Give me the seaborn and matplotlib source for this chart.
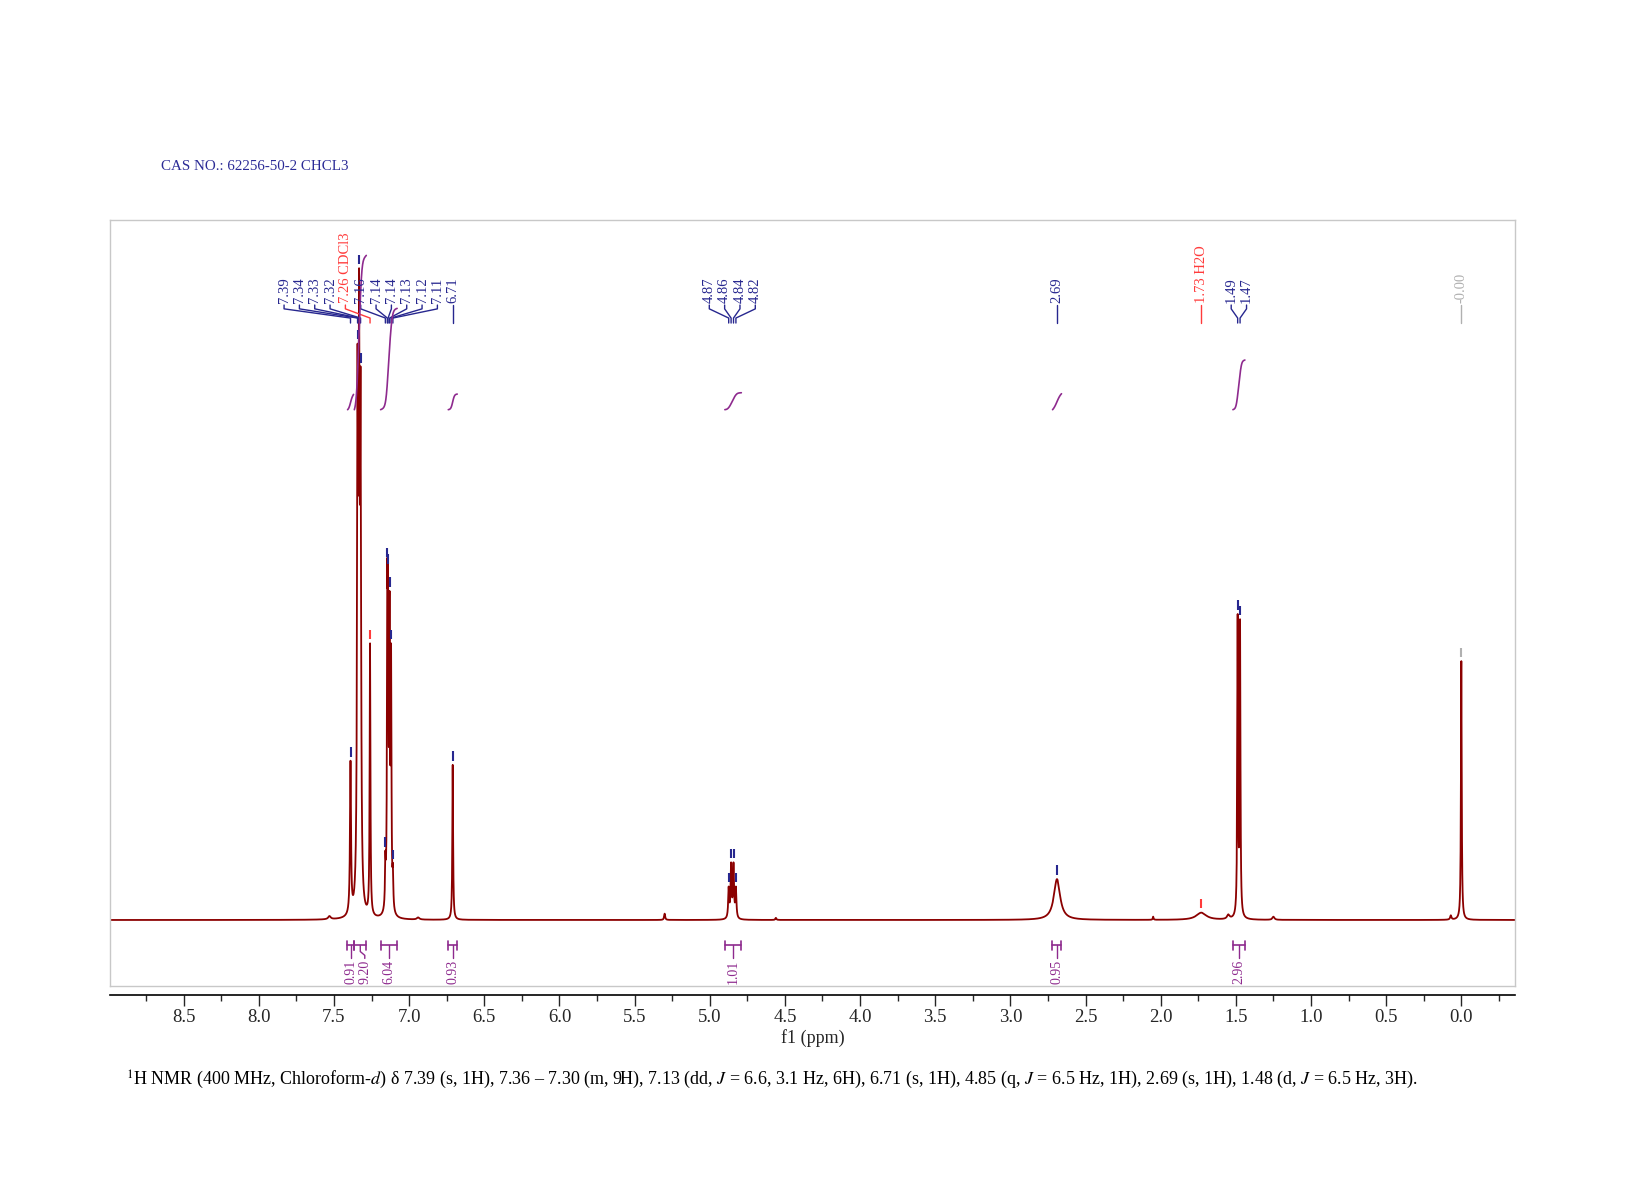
import numpy as np
import pandas as pd
import matplotlib
matplotlib.use("Agg")
import matplotlib.pyplot as plt
import matplotlib.transforms as mtransforms
from matplotlib.ticker import MultipleLocator, FormatStrFormatter
import seaborn as sns

# ---- data -----------------------------------------------------------------
# labelled peaks: position (ppm), apparent height (plot units), half width (ppm)
peak_ppm = [7.390, 7.343, 7.333, 7.323, 7.260, 7.158, 7.145, 7.140, 7.130, 7.120, 7.108,
            6.710, 4.874, 4.858, 4.842, 4.826, 2.690, 1.730, 1.488, 1.472, 0.000]
peak_height = [152, 550, 622, 528, 264, 66, 342, 336, 314, 264, 54,
               148, 32, 55, 55, 32, 39, 7, 292, 287, 247]
peak_hwhm = [0.004, 0.004, 0.004, 0.004, 0.003, 0.003, 0.003, 0.003, 0.003, 0.003, 0.003,
             0.003, 0.004, 0.004, 0.004, 0.004, 0.025, 0.04, 0.003, 0.003, 0.003]
peak_label = ["7.39", "7.34", "7.33", "7.32", "7.26 CDCl3", "7.16", "7.14", "7.14", "7.13",
              "7.12", "7.11", "6.71", "4.87", "4.86", "4.84", "4.82", "2.69", "1.73 H2O",
              "1.49", "1.47", "-0.00"]
peak_group = [0] * 11 + [1] + [2] * 4 + [3] + [4] + [5] * 2 + [6]
peak_kind = ["c"] * 4 + ["s"] + ["c"] * 12 + ["s"] + ["c"] * 2 + ["t"]

# small unlabelled bumps in the baseline
small_ppm = [7.53, 6.94, 5.30, 4.56, 2.05, 1.55, 1.25, 0.07]
small_height = [3, 2, 6, 2, 3, 4, 3, 4]
small_hwhm = [0.01, 0.01, 0.004, 0.004, 0.003, 0.01, 0.008, 0.005]

# integrals: region limits (ppm) and value
int_hi = [7.41, 7.365, 7.19, 6.74, 4.90, 2.72, 1.52]
int_lo = [7.37, 7.285, 7.08, 6.68, 4.79, 2.66, 1.44]
int_value = [0.91, 9.20, 6.04, 0.93, 1.01, 0.95, 2.96]

cas_text = "CAS NO.: 62256-50-2 CHCL3"
summary_text = (r"$^{1}$H NMR (400 MHz, Chloroform-$d$) δ 7.39 (s, 1H), 7.36 – 7.30 (m, 9H), "
                r"7.13 (dd, $J$ = 6.6, 3.1 Hz, 6H), 6.71 (s, 1H), 4.85 (q, $J$ = 6.5 Hz, 1H), "
                r"2.69 (s, 1H), 1.48 (d, $J$ = 6.5 Hz, 3H).")

# ---- colours ---------------------------------------------------------------
spec_color = "#8b0000"
label_colors = {"c": "#27278f", "s": "#ff3b3b", "t": "#b0b0b0"}
int_color = "#8e2a8e"


def lorentz(x, x0, w):
    return 1.0 / (1.0 + ((x - x0) / w) ** 2)


# amplitudes so that the summed lines reach the read heights at each peak
p = np.array(peak_ppm)
w = np.array(peak_hwhm)
A = lorentz(p[:, None], p[None, :], w[None, :])
small_at_p = sum(h * lorentz(p, x0, sw) for x0, h, sw in zip(small_ppm, small_height, small_hwhm))
amp = np.linalg.solve(A, np.array(peak_height) - small_at_p)
amp = np.clip(amp, 0, None)

grid = np.arange(-0.36, 9.0, 0.0005)
spec = np.zeros_like(grid)
for x0, a, ww in zip(peak_ppm, amp, peak_hwhm):
    spec += a * lorentz(grid, x0, ww)
for x0, h, sw in zip(small_ppm, small_height, small_hwhm):
    spec += h * lorentz(grid, x0, sw)
spectrum_df = pd.DataFrame({"ppm": grid, "intensity": spec})

top_at_peak = np.array([sum(a * lorentz(x, x0, ww) for x0, a, ww in zip(peak_ppm, amp, peak_hwhm))
                        for x in peak_ppm]) + small_at_p

# ---- figure ----------------------------------------------------------------
sns.set_style("white")
plt.rcParams["font.family"] = ["Liberation Serif", "DejaVu Serif"]
plt.rcParams["mathtext.fontset"] = "stix"

fig = plt.figure(figsize=(16.5, 11.84), dpi=100)
ax = fig.add_axes([110 / 1650, 1 - 986 / 1184, 1405 / 1650, 766 / 1184])

sns.lineplot(data=spectrum_df, x="ppm", y="intensity", color=spec_color, linewidth=1.3,
             estimator=None, sort=False, ax=ax)

ax.set_xlim(8.99, -0.357)
ax.set_ylim(-63, 668)
ax.set_xticks([])
ax.set_yticks([])
ax.set_xlabel("")
ax.set_ylabel("")
for s in ax.spines.values():
    s.set_color("#c8c8c8")
    s.set_linewidth(1.0)

trans = mtransforms.blended_transform_factory(ax.transData, ax.transAxes)

# peak tick marks above each labelled peak
mark_colors = [label_colors[k] for k in peak_kind]
ax.vlines(peak_ppm, top_at_peak + 4, top_at_peak + 13, colors=mark_colors, linewidth=1.5)

# peak labels: spread each group around its mean, then push groups apart
spacing = 0.102
groups = sorted(set(peak_group))
label_x = {}
for g in groups:
    idx = [i for i, gg in enumerate(peak_group) if gg == g]
    center = np.mean([peak_ppm[i] for i in idx])
    n = len(idx)
    for k, i in enumerate(idx):
        label_x[i] = center + (n - 1) / 2 * spacing - k * spacing
for g in reversed(groups[:-1]):
    idx = [i for i, gg in enumerate(peak_group) if gg == g]
    nxt = [i for i, gg in enumerate(peak_group) if gg == g + 1]
    gap = min(label_x[i] for i in idx) - (max(label_x[i] for i in nxt) + spacing)
    if gap < 0:
        for i in idx:
            label_x[i] -= gap

for i, px in enumerate(peak_ppm):
    lx = label_x[i]
    col = label_colors[peak_kind[i]]
    ax.plot([lx, lx, px, px], [0.889, 0.884, 0.872, 0.8655], transform=trans,
            color=col, linewidth=1.0)
    ax.text(lx, 0.892, peak_label[i], rotation=90, ha="center", va="bottom",
            transform=trans, fontsize=10.5, color=col)

# integral curves and bottom brackets
smooth_x = np.arange(-160, 161) * 0.0005
kernel = np.exp(-0.5 * (smooth_x / 0.008) ** 2)
kernel /= kernel.sum()
spec_smooth = np.convolve(spec, kernel, mode="same")
base = 487
prev_lx = None
for hi, lo, val in zip(int_hi, int_lo, int_value):
    m = (grid >= lo) & (grid <= hi)
    xs = grid[m][::-1]
    cum = np.cumsum(spec_smooth[m][::-1])
    cum = (cum - cum[0]) / (cum[-1] - cum[0])
    ax.plot(xs, base + 16 * val * cum, color=int_color, linewidth=1.2)

    mid = (hi + lo) / 2
    lx = mid if prev_lx is None else min(mid, prev_lx - 0.095)
    prev_lx = lx
    ax.plot([hi, lo], [0.053, 0.053], transform=trans, color=int_color, linewidth=1.2)
    ax.plot([hi, hi], [0.047, 0.059], transform=trans, color=int_color, linewidth=1.2)
    ax.plot([lo, lo], [0.047, 0.059], transform=trans, color=int_color, linewidth=1.2)
    ax.plot([mid, mid, lx, lx], [0.053, 0.045, 0.040, 0.036], transform=trans,
            color=int_color, linewidth=1.0)
    ax.text(lx, 0.034, f"{val:.2f}", rotation=90, ha="center", va="top",
            transform=trans, fontsize=10, color=int_color)

# separate ppm axis under the frame
sec = ax.secondary_xaxis(-9 / 766)
sec.xaxis.set_major_locator(MultipleLocator(0.5))
sec.xaxis.set_minor_locator(MultipleLocator(0.25))
sec.xaxis.set_major_formatter(FormatStrFormatter("%.1f"))
sec.tick_params(which="major", direction="out", length=8, width=1, labelsize=13.5, pad=2)
sec.tick_params(which="minor", direction="out", length=4, width=1)
sec.spines["bottom"].set_color("black")
sec.spines["bottom"].set_linewidth(1.2)
sec.set_xlabel("f1 (ppm)", fontsize=13, labelpad=2)

fig.text(161 / 1650, 1 - 166 / 1184, cas_text, color="#2b2b96", fontsize=10.8,
         ha="left", va="center")
fig.text(126 / 1650, 1 - 1080 / 1184, summary_text, color="black", fontsize=13,
         ha="left", va="center")

fig.savefig("out.png", dpi=100)
